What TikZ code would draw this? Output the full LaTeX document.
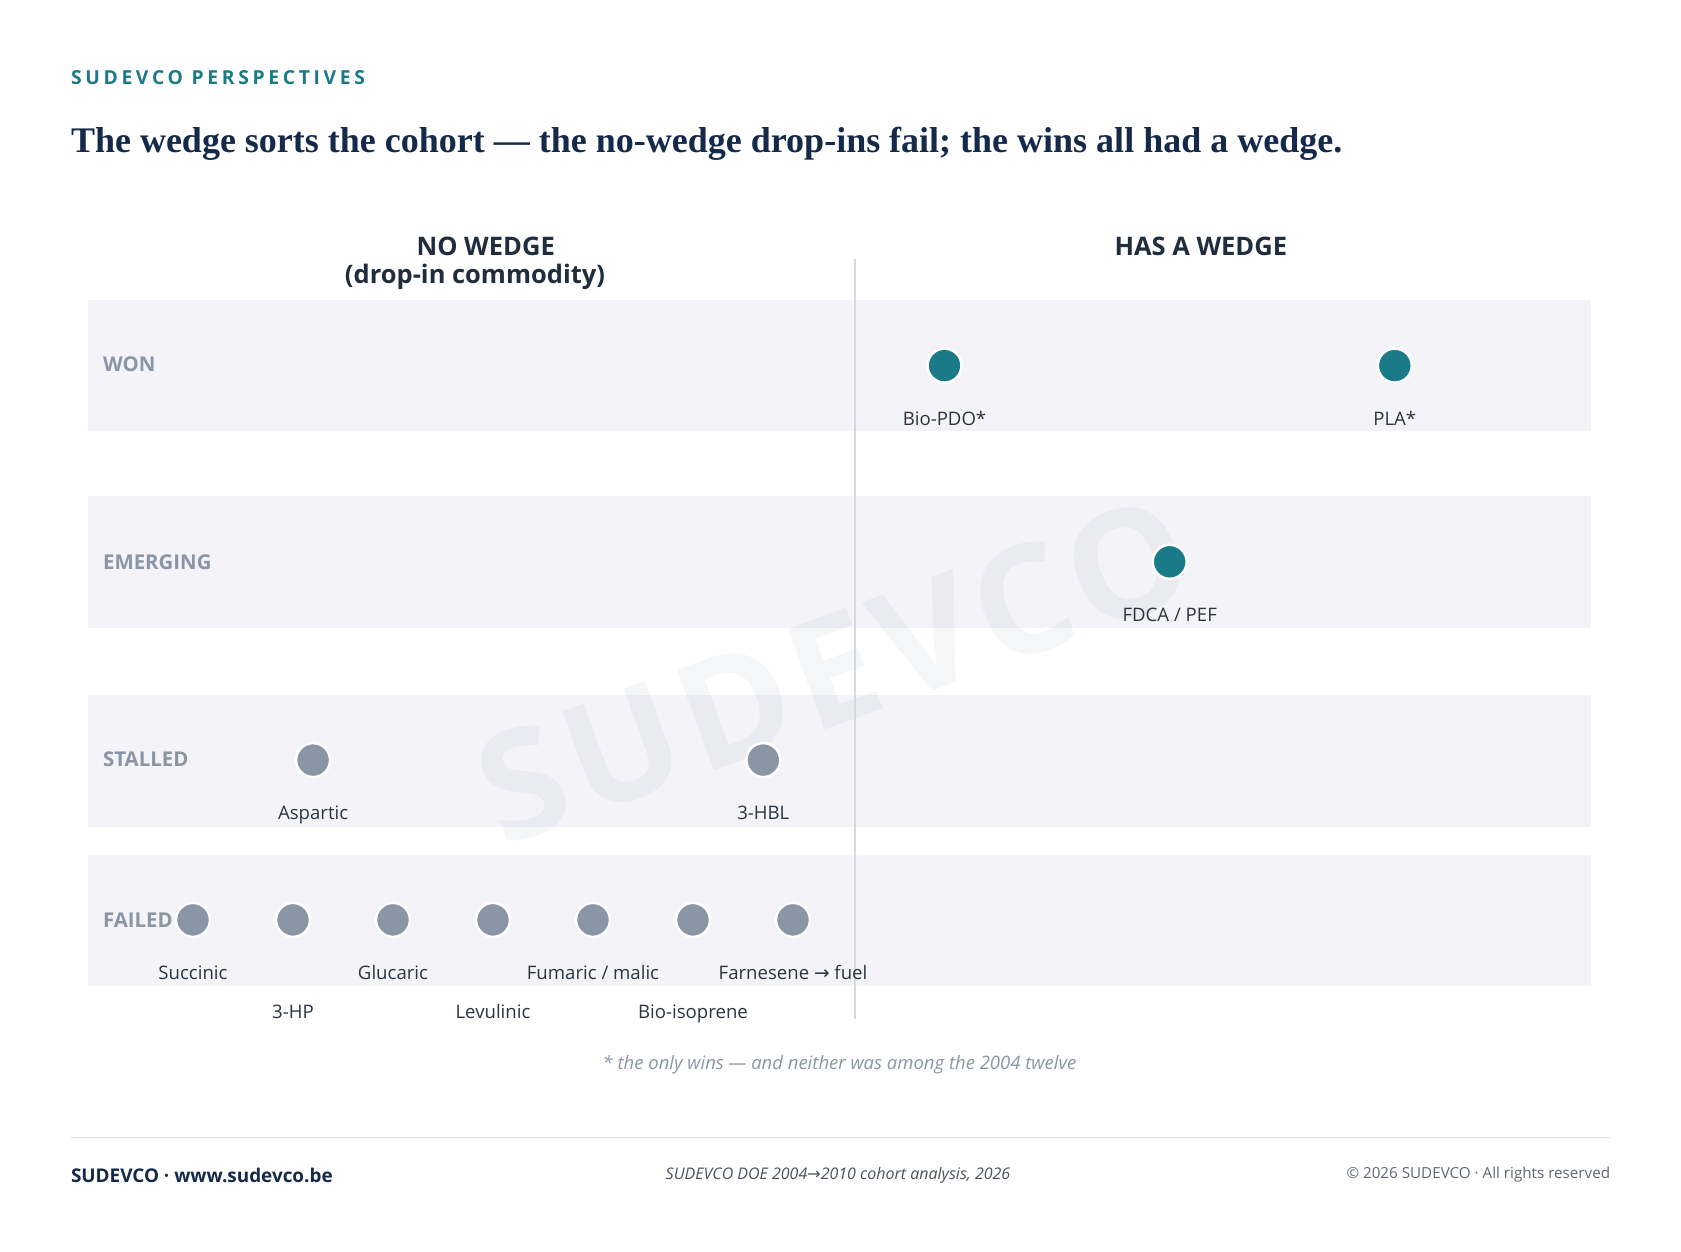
\documentclass[tikz,border=0pt]{standalone}
\usepackage{fontspec}
\setmainfont{Open Sans}
\newfontfamily\titlefont{Liberation Serif}
\newfontfamily\arrowfont{DejaVu Sans}
\usetikzlibrary{positioning}
\definecolor{tealdot}{HTML}{1B7A87}
\definecolor{navy}{HTML}{15294A}
\definecolor{headnavy}{HTML}{1F2D3D}
\definecolor{rowgray}{HTML}{8A96A6}
\definecolor{bandgray}{HTML}{F3F3F8}
\definecolor{labeldark}{HTML}{2B3440}
\definecolor{rulegray}{HTML}{D3DAE3}
\tikzset{
        % Kicker and headline
        brand_label/.style={anchor=west, inner sep=0pt, text=tealdot, font=\bfseries\fontsize{19.3}{23}\selectfont\addfontfeatures{LetterSpace=19}},
        title_label/.style={anchor=west, inner sep=0pt, text=navy, font=\titlefont\bfseries\fontsize{36}{42}\selectfont},
        % Column heads
        col_head/.style={inner sep=0pt, text=headnavy, font=\bfseries\fontsize{25.5}{30}\selectfont},
        % Row names and bands
        row_label/.style={anchor=west, inner sep=0pt, text=rowgray, font=\bfseries\fontsize{20.4}{24}\selectfont},
        row_band/.style={fill=bandgray},
        % Dots
        dot/.style={circle, draw=white, line width=2.5pt, minimum size=34pt, inner sep=0pt},
        dot_wedge/.style={dot, fill=tealdot},
        dot_nowedge/.style={dot, fill=rowgray},
        dot_label/.style={inner sep=0pt, text height=13.5pt, text depth=4pt, text=labeldark, font=\fontsize{18.6}{22}\selectfont},
        % Footer
        foot_note/.style={inner sep=0pt, text=rowgray, font=\itshape\fontsize{18.5}{22}\selectfont}
}
\begin{document}
\begin{tikzpicture}[x=1pt, y=-1pt]
    \fill[white] (0,0) rectangle (1681,1252);
    \useasboundingbox (0,0) rectangle (1681,1252);

    \node[brand_label] (kicker) at (70.8,77.2) {SUDEVCO PERSPECTIVES};
    \node[title_label] (title) at (70.8,143.5) {The wedge sorts the cohort — the no-wedge drop-ins fail; the wins all had a wedge.};

    % bands
    \fill[row_band] (87.9,300.2) rectangle (1591,431);
    \fill[row_band] (87.9,496.4) rectangle (1591,628.3);
    \fill[row_band] (87.9,694.7) rectangle (1591,826.6);
    \fill[row_band] (87.9,854.5) rectangle (1591,986.3);

    \node[rotate=20, text=rowgray, text opacity=0.08, font=\bfseries\fontsize{150}{170}\selectfont\addfontfeatures{LetterSpace=5}] (mark) at (834,670) {SUDEVCO};

    \draw[rulegray, line width=2pt] (854.5,259.4) -- (854.5,1018.5);

    \node[col_head] (nowedge) at (485.7,246.6) {NO WEDGE};
    \node[col_head] (dropin) at (475,277) {(drop-in commodity)};
    \node[col_head] (haswedge) at (1200.8,246.6) {HAS A WEDGE};

    \node[row_label] (won) at (102.9,364.5) {WON};
    \node[row_label] (emerging) at (102.9,561.8) {EMERGING};
    \node[row_label] (stalled) at (102.9,759) {STALLED};
    \node[row_label] (failed) at (102.9,919.9) {FAILED};

    \node[dot_wedge] (bpdo) at (944.5,365.6) {};
    \node[dot_label, below=27.5pt of bpdo] {Bio-PDO*};
    \node[dot_wedge] (pla) at (1394.8,365.6) {};
    \node[dot_label, below=27.5pt of pla] {PLA*};
    \node[dot_wedge] (fdca) at (1169.7,561.8) {};
    \node[dot_label, below=27.5pt of fdca] {FDCA / PEF};
    \node[dot_nowedge] (asp) at (313.1,760.1) {};
    \node[dot_label, below=27.5pt of asp] {Aspartic};
    \node[dot_nowedge] (hbl) at (763.3,760.1) {};
    \node[dot_label, below=27.5pt of hbl] {3-HBL};

    \foreach \lab [count=\i from 0] in {Succinic,3-HP,Glucaric,Levulinic,Fumaric / malic,Bio-isoprene,Farnesene {\arrowfont →} fuel} {
        \pgfmathsetmacro\gap{mod(\i,2)==0 ? 27.5 : 67}
        \node[dot_nowedge] (f\i) at (193+100*\i,919.9) {};
        \node[dot_label, below=\gap pt of f\i] {\lab};
    }

    \node[foot_note] (note) at (839.5,1065) {* the only wins — and neither was among the 2004 twelve};

    \draw[rulegray!70, line width=1.5pt] (70.8,1137.5) -- (1610.3,1137.5);
    \node[anchor=west, inner sep=0pt, text=navy, font=\bfseries\fontsize{18.9}{23}\selectfont] (brand) at (70.8,1175) {SUDEVCO · www.sudevco.be};
    \node[inner sep=0pt, text=labeldark!85, font=\itshape\fontsize{16}{19}\selectfont] (source) at (838,1175) {SUDEVCO DOE 2004{\arrowfont →}2010 cohort analysis, 2026};
    \node[anchor=east, inner sep=0pt, text=labeldark!75, font=\fontsize{15.2}{18}\selectfont] (rights) at (1610.3,1175) {© 2026 SUDEVCO · All rights reserved};
\end{tikzpicture}
\end{document}
